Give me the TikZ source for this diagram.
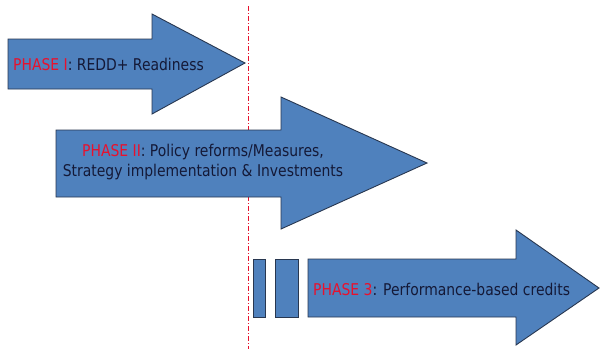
\documentclass[tikz,border=0pt]{standalone}
\usepackage{fontspec}
\setmainfont{DejaVu Sans}[FakeStretch=0.86]
\definecolor{arrowblue}{RGB}{79,129,189}
\definecolor{arrowedge}{RGB}{40,55,80}
\definecolor{phasered}{RGB}{232,17,45}
\definecolor{textnavy}{RGB}{20,25,55}
\begin{document}
\begin{tikzpicture}[x=1pt,y=-1pt,
  phasearrow/.style={fill=arrowblue,draw=arrowedge,line width=0.9pt,line join=miter},
  label/.style={font=\fontsize{16.2}{19.5}\selectfont,text=textnavy,inner sep=0pt,align=center}]
\useasboundingbox (0,0) rectangle (600,349);
% divider
\draw[phasered,dash pattern=on 5pt off 2pt on 1pt off 2pt,line width=0.7pt] (248,6) -- (248,349);
% Phase I arrow
\draw[phasearrow] (8,39) -- (152,39) -- (152,14) -- (245,63) -- (152,114) -- (152,89) -- (8,89) -- cycle;
\node[label,anchor=west] (p1) at (13,64) {\textcolor{phasered}{PHASE I}: REDD+ Readiness};
% Phase II arrow
\draw[phasearrow] (56,130) -- (281,130) -- (281,97) -- (427,163) -- (281,229) -- (281,197) -- (56,197) -- cycle;
\node[label] (p2) at (203,162) {\textcolor{phasered}{PHASE II}: Policy reforms/Measures,\\Strategy implementation \& Investments};
% Phase 3 arrow
\draw[phasearrow] (253,259) rectangle (265,317);
\draw[phasearrow] (275,259) rectangle (298,317);
\draw[phasearrow] (308,259) -- (516,259) -- (516,230) -- (599,288) -- (516,345) -- (516,317) -- (308,317) -- cycle;
\node[label,anchor=west] (p3) at (313,289) {\textcolor{phasered}{PHASE 3}: Performance-based credits};
\end{tikzpicture}
\end{document}
